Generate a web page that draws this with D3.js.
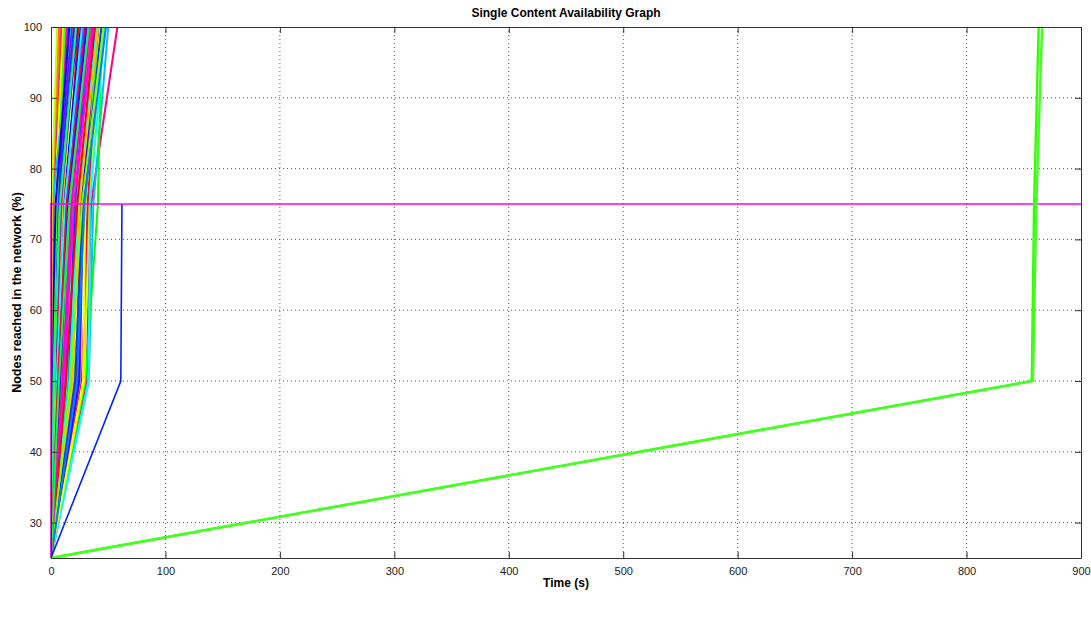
<!DOCTYPE html>
<html lang="en">

<head>
  <meta charset="UTF-8">
  <title>Single Content Availability Graph</title>
  <style>
    body { margin: 0; background: #fff; }
    text { font-family: "Liberation Sans", Arial, sans-serif; }
  </style>
</head>

<body>
  <div id="svg"></div>

  <script src="https://d3js.org/d3.v7.min.js"></script>

  <script>
    // every run starts at 25% (1 of 4 nodes) at t = 0
    const levels = [25, 50, 75, 100]
    const xTicks = [0, 100, 200, 300, 400, 500, 600, 700, 800, 900]
    const yTicks = [30, 40, 50, 60, 70, 80, 90, 100]

    // time (s) at which each run reached 50 / 75 / 100 %
    const runColors = ['#ff0080', '#00bfff', '#00ff00', '#bfff00', '#00ffff', '#ff0040', '#8000ff', '#ff0000', '#0000ff', '#ffff00',
      '#ff8000', '#40ff00', '#ff00bf', '#0040ff', '#00ff80', '#ff4000', '#bf00ff', '#00ffbf', '#ff00ff', '#0080ff',
      '#80ff00', '#ff0000', '#0000ff', '#ffbf00', '#00ff40', '#ff0080', '#4000ff', '#00ffff', '#ff8000', '#bfff00',
      '#8000ff', '#ff0040', '#0040ff', '#00ff00', '#ff00bf', '#80ff00', '#ff4000', '#0080ff', '#ffff00', '#ff00ff',
      '#bf00ff', '#ff0000', '#00bfff', '#40ff00', '#ff0080', '#0000ff', '#ff8000', '#00ff80', '#bfff00', '#ff0040',
      '#4000ff', '#ff00ff', '#00ffff', '#ffbf00', '#0040ff', '#ff0000', '#80ff00', '#0080ff', '#ff00bf', '#00ff40']
    const reach50 = [31, 33, 30, 29, 33, 27, 25, 22, 24, 28,
      18, 20, 16, 15, 14, 12, 13, 11, 10, 9,
      8, 7, 6, 5, 9, 4, 3, 5, 2, 3,
      2, 1, 1, 2, 0.5, 1, 0.5, 0, 1, 0,
      0, 0, 0.5, 1.5, 0, 0.5, 0, 2.5, 0, 6,
      8, 11, 16, 19, 21, 13, 17, 23, 10, 7]
    const reach75 = [35, 37, 41, 33, 34, 32, 28, 26, 27, 30,
      22, 30, 20, 21, 19, 18, 17, 16, 15, 14,
      12, 13, 11, 10, 17, 9, 8, 12, 7, 6,
      5, 4, 6, 4, 3, 2, 2, 3, 3, 1,
      2, 1, 1.5, 5, 0.5, 4, 1, 8, 0.5, 14,
      15, 20, 24, 25, 28, 23, 27, 29, 18, 16]
    const reach100 = [58, 50, 44, 45, 47, 42, 40, 38, 39, 43,
      35, 41, 36, 33, 31, 30, 28, 32, 27, 29,
      25, 24, 26, 22, 34, 21, 23, 27, 19, 16,
      18, 15, 20, 13, 14, 10, 9, 12, 11, 8,
      7, 6, 17, 12, 6.5, 16, 7.5, 22, 5.5, 30,
      31, 37, 40, 41, 44, 38, 46, 48, 34, 33]

    // runs that stalled at 75 %
    const stallColors = ['#0022ff', '#ff00ff']
    const stall50 = [61, 0]
    const stall75 = [62, 0]
    const stallEnd = [62, 900]

    // the two slow runs on the right
    const slowColors = ['#33ff00', '#44ff22']
    const slow50 = [857, 858]
    const slow75 = [859, 861]
    const slow100 = [863, 866]

    const width = 1091
    const height = 625
    const padding = { top: 27, left: 51, bottom: 67, right: 10 }

    const svg = d3.select('#svg').append('svg').attr('width', width).attr('height', height)

    const xScale = d3.scaleLinear().domain([0, 900]).range([padding.left, width - padding.right])
    const yScale = d3.scaleLinear().domain([25, 100]).range([height - padding.bottom, padding.top])

    // grid
    svg.append('g').selectAll('line').data(xTicks.slice(1, -1)).enter().append('line')
      .attr('x1', d => xScale(d)).attr('x2', d => xScale(d))
      .attr('y1', padding.top).attr('y2', height - padding.bottom)
      .attr('stroke', '#555').attr('stroke-dasharray', '1,3')
    svg.append('g').selectAll('line').data(yTicks.slice(0, -1)).enter().append('line')
      .attr('y1', d => yScale(d)).attr('y2', d => yScale(d))
      .attr('x1', padding.left).attr('x2', width - padding.right)
      .attr('stroke', '#555').attr('stroke-dasharray', '1,3')

    const line = d3.line().x(d => xScale(d[0])).y(d => yScale(d[1]))
    const plot = svg.append('g')

    const runs = runColors.map((c, i) => ({
      color: c, w: 2,
      pts: [[0, levels[0]], [reach50[i], levels[1]], [reach75[i], levels[2]], [reach100[i], levels[3]]]
    }))
    const stalls = stallColors.map((c, i) => ({
      color: c, w: 1.6,
      pts: [[0, levels[0]], [stall50[i], levels[1]], [stall75[i], levels[2]], [stallEnd[i], levels[2]]]
    }))
    const slows = slowColors.map((c, i) => ({
      color: c, w: 2.4,
      pts: [[0, levels[0]], [slow50[i], levels[1]], [slow75[i], levels[2]], [slow100[i], levels[3]]]
    }))

    plot.selectAll('path').data(runs.concat(stalls, slows)).enter().append('path')
      .attr('d', d => line(d.pts))
      .attr('fill', 'none')
      .attr('stroke', d => d.color)
      .attr('stroke-width', d => d.w)

    // axes (box with inward ticks, matlab style)
    const axisColor = '#333'
    const tickLen = 6
    const xAxis = d3.axisBottom(xScale).tickValues(xTicks).tickSizeInner(-tickLen).tickSizeOuter(0).tickPadding(tickLen + 3)
    const gX = svg.append('g').attr('transform', `translate(0,${height - padding.bottom})`)
    gX.call(xAxis)
    const gXt = svg.append('g').attr('transform', `translate(0,${padding.top})`)
    gXt.call(d3.axisTop(xScale).tickValues(xTicks).tickSizeInner(-tickLen).tickSizeOuter(0).tickFormat(''))

    const yAxis = d3.axisLeft(yScale).tickValues(yTicks).tickSizeInner(-tickLen).tickSizeOuter(0).tickPadding(tickLen + 3)
    const gY = svg.append('g').attr('transform', `translate(${padding.left},0)`)
    gY.call(yAxis)
    const gYr = svg.append('g').attr('transform', `translate(${width - padding.right},0)`)
    gYr.call(d3.axisRight(yScale).tickValues(yTicks).tickSizeInner(-tickLen).tickSizeOuter(0).tickFormat(''))

    svg.selectAll('.domain').attr('stroke', axisColor)
    svg.selectAll('.tick line').attr('stroke', axisColor)
    svg.selectAll('.tick text').attr('fill', '#222').attr('font-size', '11px')
      .attr('font-family', '"Liberation Sans", Arial, sans-serif')

    // labels
    svg.append('text').attr('x', (padding.left + width - padding.right) / 2).attr('y', 17)
      .attr('text-anchor', 'middle').attr('font-size', '12px').attr('font-weight', 'bold')
      .text('Single Content Availability Graph')
    svg.append('text').attr('x', (padding.left + width - padding.right) / 2).attr('y', 587)
      .attr('text-anchor', 'middle').attr('font-size', '12px').attr('font-weight', 'bold')
      .text('Time (s)')
    svg.append('text')
      .attr('transform', `translate(21,${(padding.top + height - padding.bottom) / 2}) rotate(-90)`)
      .attr('text-anchor', 'middle').attr('font-size', '12.5px').attr('font-weight', 'bold')
      .text('Nodes reached in the network (%)')
  </script>
</body>

</html>
